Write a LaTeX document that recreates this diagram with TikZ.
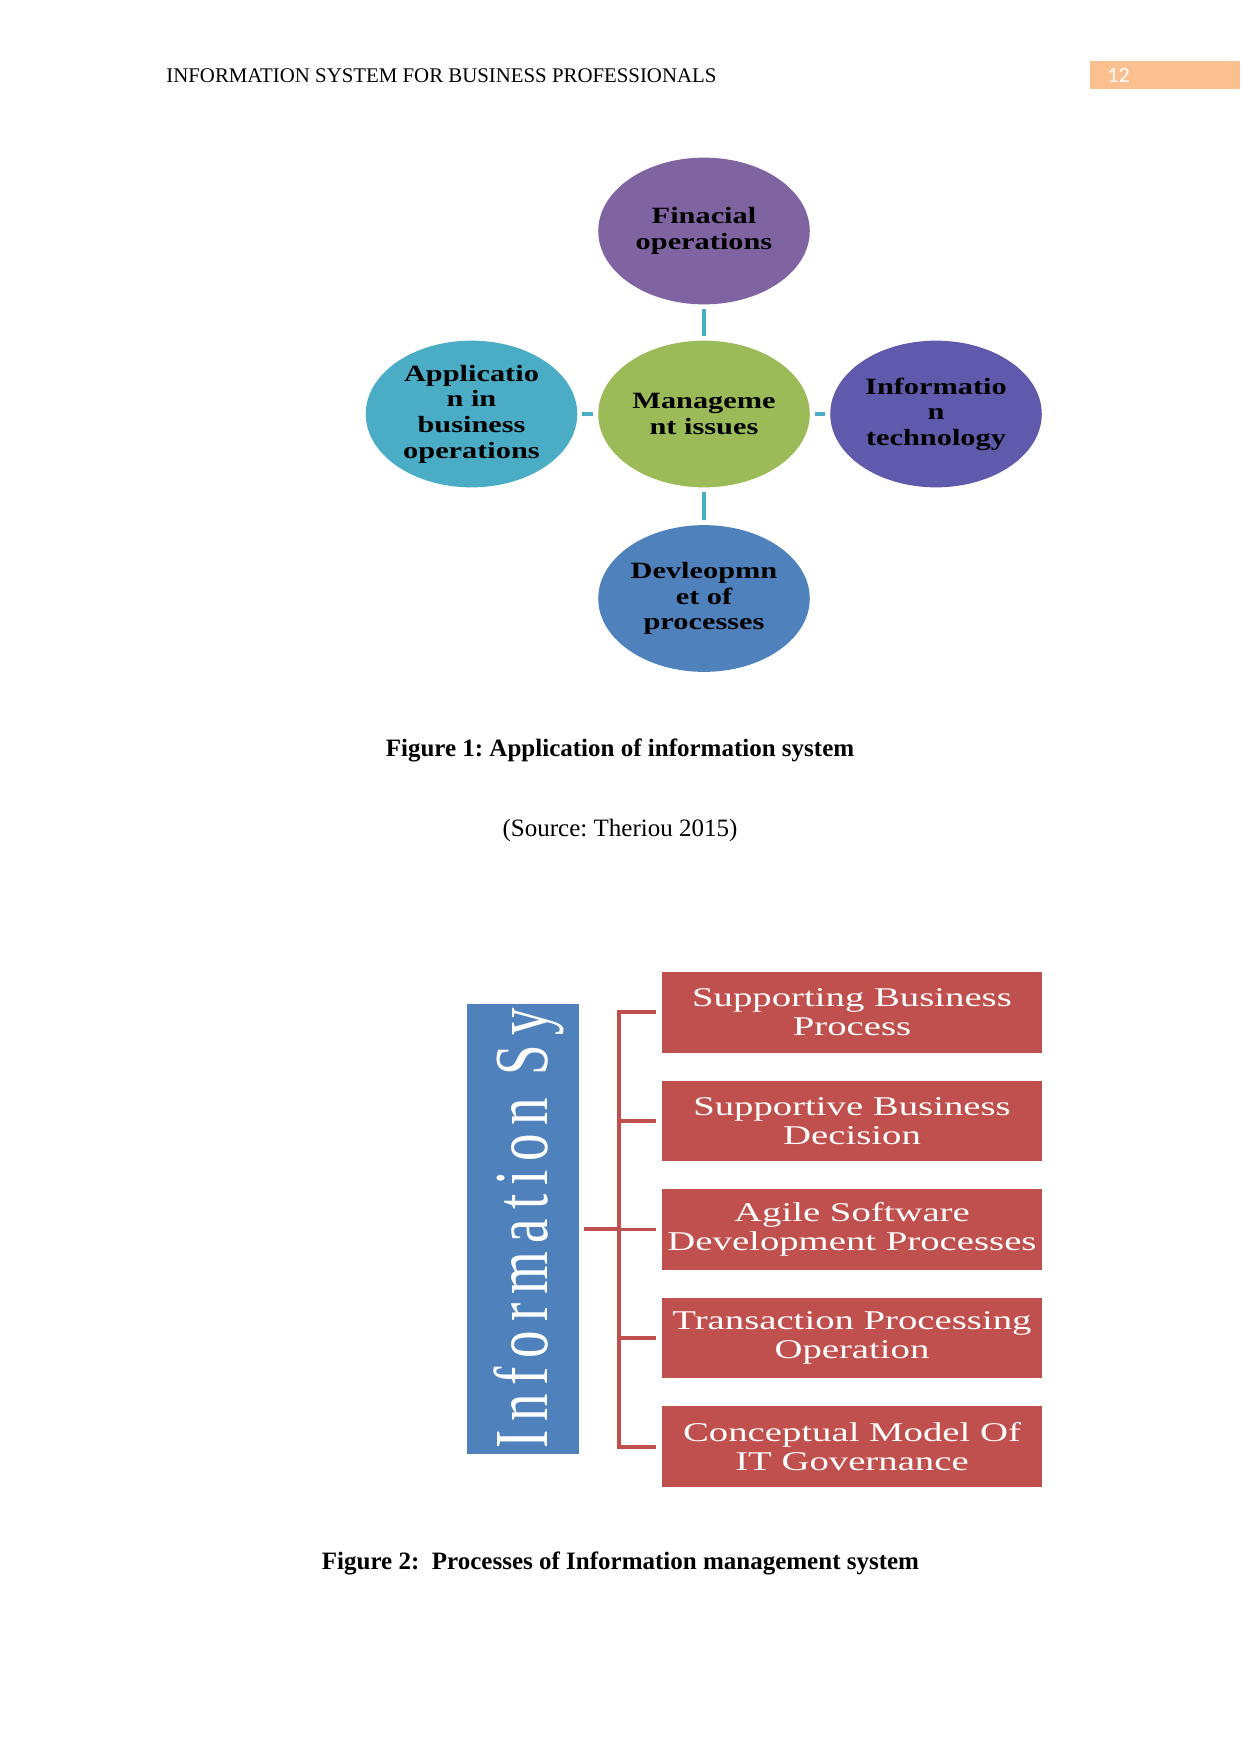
\documentclass[tikz,border=0pt]{standalone}
\usepackage{fontspec}
\setmainfont{Liberation Serif}
\newfontfamily\ellfont[FakeStretch=1.30]{Liberation Serif}
\newfontfamily\boxfont[FakeStretch=1.43]{Liberation Serif}
\newfontfamily\vertfont[FakeStretch=0.72,LetterSpace=11.6]{Liberation Serif}
\newfontfamily\numfont{Carlito}
\usetikzlibrary{shapes.geometric,calc}
\definecolor{cpurple}{HTML}{8064A2}
\definecolor{cgreen}{HTML}{9BBB59}
\definecolor{caqua}{HTML}{4BACC6}
\definecolor{cviolet}{HTML}{5F5AAB}
\definecolor{cblue}{HTML}{4F81BD}
\definecolor{cred}{HTML}{C0504D}
\definecolor{cpeach}{HTML}{FAC090}
\tikzset{
  ell/.style={ellipse, draw=none, minimum width=101.5pt, minimum height=70.4pt, inner sep=0pt,
    align=center, text=black, font=\ellfont\bfseries\fontsize{11.2}{12.3}\selectfont},
  conn/.style={draw=caqua, line width=2.1pt, shorten <=2.2pt, shorten >=2.2pt},
  redbox/.style={rectangle, fill=cred, draw=none, minimum width=182.3pt, minimum height=38.6pt,
    inner sep=0pt, align=center, text=white, font=\boxfont\fontsize{13}{14}\selectfont},
  brk/.style={draw=cred, line width=1.9pt, line join=miter},
  caption/.style={anchor=base, font=\bfseries\fontsize{12}{14}\selectfont},
}
\frenchspacing
\begin{document}
\frenchspacing
\begin{tikzpicture}[x=0.47979pt,y=-0.47979pt]
\useasboundingbox (0,0) rectangle (1241,1754);
% header
\node[anchor=base west, inner sep=0pt, font=\fontsize{10}{12}\selectfont] (hdr) at (166,82.3) {INFORMATION SYSTEM FOR BUSINESS PROFESSIONALS};
\node[anchor=north west, fill=cpeach, minimum width=71.97pt, minimum height=13.43pt, inner sep=0pt] (pg) at (1090,60.7) {};
\node[anchor=base west, inner sep=0pt, text=white, font=\numfont\fontsize{10.5}{12}\selectfont] (pgnum) at (1107,82.3) {12};

% figure 1
\node[ell, fill=cpurple] (fin) at (704,231) {Finacial\\operations};
\node[ell, fill=cgreen] (mgmt) at (704,414) {Manageme\\nt issues};
\node[ell, fill=caqua] (app) at (471.5,414) {Applicatio\\n in\\business\\operations};
\node[ell, fill=cviolet] (it) at (936,414) {Informatio\\n\\technology};
\node[ell, fill=cblue] (dev) at (704,598.5) {Devleopmn\\et of\\processes};
\draw[conn] (fin) -- (mgmt);
\draw[conn] (mgmt) -- (dev);
\draw[conn] (mgmt) -- (app);
\draw[conn] (mgmt) -- (it);

\node[caption] (cap1) at (620,756) {Figure 1: Application of information system};
\node[anchor=base, font=\fontsize{12}{14}\selectfont] (src) at (620,836) {(Source: Theriou 2015)};

% figure 2
\node[rectangle, fill=cblue, minimum width=53.7pt, minimum height=215.9pt, inner sep=0pt] (info) at (523,1229) {};
\begin{scope}
  \clip (info.south west) rectangle (info.north east);
  \node[rotate=90, anchor=base west, inner sep=0pt, text=white, font=\vertfont\fontsize{36.6}{40}\selectfont] (infotext) at (547,1449) {Information System};
\end{scope}

\node[redbox] (b1) at (852,1012.3) {Supporting Business\\Process};
\node[redbox] (b2) at (852,1120.9) {Supportive Business\\Decision};
\node[redbox] (b3) at (852,1229.5) {Agile Software\\Development Processes};
\node[redbox] (b4) at (852,1338.1) {Transaction Processing\\Operation};
\node[redbox] (b5) at (852,1446.7) {Conceptual Model Of\\IT Governance};

\coordinate (spine) at (619,1229.5);
\draw[brk] ($(b1.west)+(-6,0)$) -| (b5.west -| spine) -- ($(b5.west)+(-6,0)$);
\foreach \i in {2,3,4} \draw[brk] ($(b\i.west)+(-6,0)$) -- (b\i.west -| spine);
\draw[brk] ($(info.east)+(4.5,0)$) -- (info.east -| spine);

\node[caption] (cap2) at (620.5,1569) {Figure 2:~ Processes of Information management system};
\end{tikzpicture}
\end{document}
